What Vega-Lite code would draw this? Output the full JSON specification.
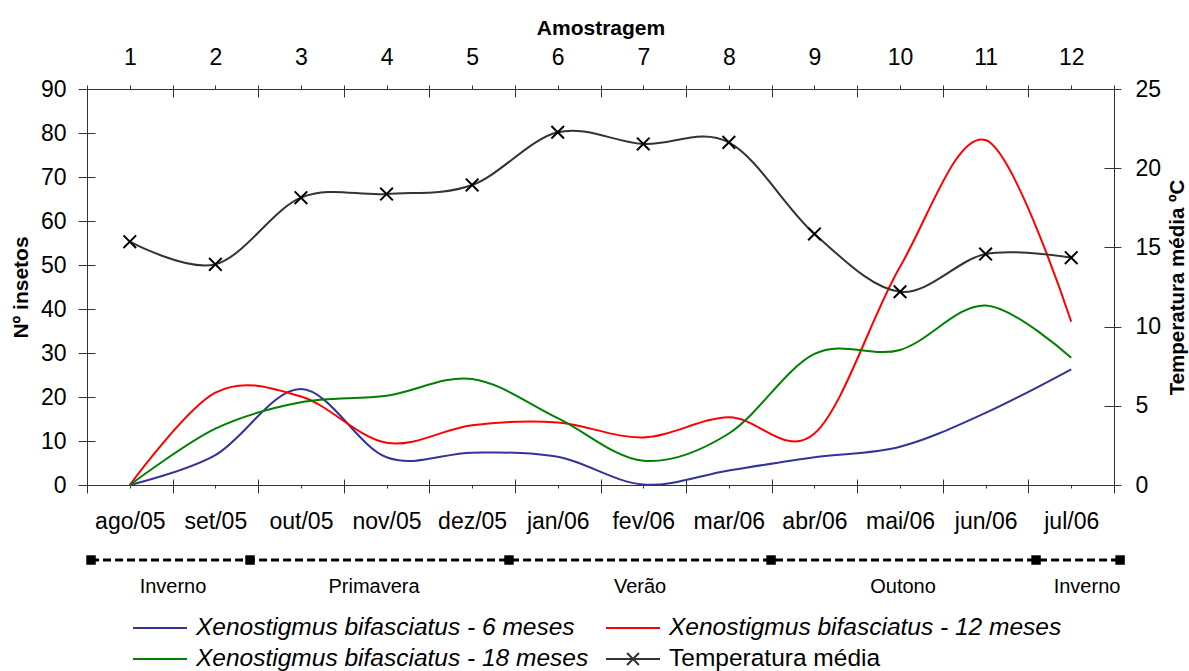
{
  "$schema": "https://vega.github.io/schema/vega-lite/v6.json",
  "width": 1027,
  "height": 396,
  "autosize": {"type": "none"},
  "padding": {"left": 87, "top": 89, "right": 75, "bottom": 186},
  "background": "white",
  "config": {
    "font": "Liberation Sans",
    "view": {"stroke": null},
    "axis": {
      "grid": false,
      "domainColor": "#333333",
      "tickColor": "#333333",
      "labelColor": "#000000",
      "titleColor": "#000000",
      "labelFont": "Liberation Sans",
      "titleFont": "Liberation Sans",
      "labelFontSize": 23,
      "titleFontSize": 21,
      "titleFontWeight": "bold",
      "labelOverlap": false,
      "labelFlush": false
    }
  },
  "datasets": {
    "series": [
      {"amostra": 1, "serie": "Xenostigmus bifasciatus - 6 meses", "n": 0},
      {"amostra": 2, "serie": "Xenostigmus bifasciatus - 6 meses", "n": 6.8},
      {"amostra": 3, "serie": "Xenostigmus bifasciatus - 6 meses", "n": 21.8},
      {"amostra": 4, "serie": "Xenostigmus bifasciatus - 6 meses", "n": 6.3},
      {"amostra": 5, "serie": "Xenostigmus bifasciatus - 6 meses", "n": 7.35},
      {"amostra": 6, "serie": "Xenostigmus bifasciatus - 6 meses", "n": 6.4},
      {"amostra": 7, "serie": "Xenostigmus bifasciatus - 6 meses", "n": 0.1},
      {"amostra": 8, "serie": "Xenostigmus bifasciatus - 6 meses", "n": 3.3},
      {"amostra": 9, "serie": "Xenostigmus bifasciatus - 6 meses", "n": 6.3},
      {"amostra": 10, "serie": "Xenostigmus bifasciatus - 6 meses", "n": 8.7},
      {"amostra": 11, "serie": "Xenostigmus bifasciatus - 6 meses", "n": 16.4},
      {"amostra": 12, "serie": "Xenostigmus bifasciatus - 6 meses", "n": 26.3},
      {"amostra": 1, "serie": "Xenostigmus bifasciatus - 12 meses", "n": 0},
      {"amostra": 2, "serie": "Xenostigmus bifasciatus - 12 meses", "n": 21},
      {"amostra": 3, "serie": "Xenostigmus bifasciatus - 12 meses", "n": 20.1},
      {"amostra": 4, "serie": "Xenostigmus bifasciatus - 12 meses", "n": 9.6},
      {"amostra": 5, "serie": "Xenostigmus bifasciatus - 12 meses", "n": 13.6},
      {"amostra": 6, "serie": "Xenostigmus bifasciatus - 12 meses", "n": 14.2},
      {"amostra": 7, "serie": "Xenostigmus bifasciatus - 12 meses", "n": 10.8},
      {"amostra": 8, "serie": "Xenostigmus bifasciatus - 12 meses", "n": 15.4},
      {"amostra": 9, "serie": "Xenostigmus bifasciatus - 12 meses", "n": 11.7},
      {"amostra": 10, "serie": "Xenostigmus bifasciatus - 12 meses", "n": 49.6},
      {"amostra": 11, "serie": "Xenostigmus bifasciatus - 12 meses", "n": 78.4},
      {"amostra": 12, "serie": "Xenostigmus bifasciatus - 12 meses", "n": 37.1},
      {"amostra": 1, "serie": "Xenostigmus bifasciatus - 18 meses", "n": 0},
      {"amostra": 2, "serie": "Xenostigmus bifasciatus - 18 meses", "n": 12.8},
      {"amostra": 3, "serie": "Xenostigmus bifasciatus - 18 meses", "n": 18.8},
      {"amostra": 4, "serie": "Xenostigmus bifasciatus - 18 meses", "n": 20.3},
      {"amostra": 5, "serie": "Xenostigmus bifasciatus - 18 meses", "n": 24.1},
      {"amostra": 6, "serie": "Xenostigmus bifasciatus - 18 meses", "n": 15.2},
      {"amostra": 7, "serie": "Xenostigmus bifasciatus - 18 meses", "n": 5.5},
      {"amostra": 8, "serie": "Xenostigmus bifasciatus - 18 meses", "n": 11.7},
      {"amostra": 9, "serie": "Xenostigmus bifasciatus - 18 meses", "n": 29.8},
      {"amostra": 10, "serie": "Xenostigmus bifasciatus - 18 meses", "n": 30.7},
      {"amostra": 11, "serie": "Xenostigmus bifasciatus - 18 meses", "n": 40.8},
      {"amostra": 12, "serie": "Xenostigmus bifasciatus - 18 meses", "n": 28.9}
    ],
    "temp": [
      {"amostra": 1, "serie": "Temperatura média", "temp": 15.36},
      {"amostra": 2, "serie": "Temperatura média", "temp": 13.93},
      {"amostra": 3, "serie": "Temperatura média", "temp": 18.14},
      {"amostra": 4, "serie": "Temperatura média", "temp": 18.37},
      {"amostra": 5, "serie": "Temperatura média", "temp": 18.94},
      {"amostra": 6, "serie": "Temperatura média", "temp": 22.27},
      {"amostra": 7, "serie": "Temperatura média", "temp": 21.53},
      {"amostra": 8, "serie": "Temperatura média", "temp": 21.63},
      {"amostra": 9, "serie": "Temperatura média", "temp": 15.85},
      {"amostra": 10, "serie": "Temperatura média", "temp": 12.2},
      {"amostra": 11, "serie": "Temperatura média", "temp": 14.58},
      {"amostra": 12, "serie": "Temperatura média", "temp": 14.35}
    ],
    "estacoes": [
      {"pos": 0.547},
      {"pos": 2.405},
      {"pos": 5.431},
      {"pos": 8.493},
      {"pos": 11.589},
      {"pos": 12.571}
    ],
    "estacaoNomes": [
      {"pos": 1.505, "nome": "Inverno"},
      {"pos": 3.854, "nome": "Primavera"},
      {"pos": 6.962, "nome": "Verão"},
      {"pos": 10.035, "nome": "Outono"},
      {"pos": 12.185, "nome": "Inverno"}
    ]
  },
  "layer": [
    {
      "data": {"name": "series"},
      "mark": {"type": "line", "interpolate": "cardinal", "tension": 0, "strokeWidth": 2},
      "encoding": {
        "x": {
          "field": "amostra", "type": "quantitative",
          "scale": {"domain": [0.5, 12.5], "nice": false, "zero": false},
          "axis": {
            "orient": "bottom", "title": null,
            "values": [1, 2, 3, 4, 5, 6, 7, 8, 9, 10, 11, 12],
            "labelExpr": "['ago/05','set/05','out/05','nov/05','dez/05','jan/06','fev/06','mar/06','abr/06','mai/06','jun/06','jul/06'][datum.value - 1]",
            "tickSize": 3, "labelPadding": 22, "domain": true
          }
        },
        "y": {
          "field": "n", "type": "quantitative",
          "scale": {"domain": [0, 90], "nice": false},
          "axis": {
            "orient": "left", "title": "Nº insetos",
            "values": [0, 10, 20, 30, 40, 50, 60, 70, 80, 90],
            "tickSize": 9, "labelPadding": 12, "titlePadding": 9
          }
        },
        "color": {
          "field": "serie", "type": "nominal",
          "scale": {
            "domain": ["Xenostigmus bifasciatus - 6 meses", "Xenostigmus bifasciatus - 12 meses", "Xenostigmus bifasciatus - 18 meses", "Temperatura média"],
            "range": ["#333399", "#FF0000", "#008000", "#333333"]
          },
          "legend": {
            "orient": "none", "legendX": 45, "legendY": 526,
            "columns": 2, "direction": "horizontal", "title": null,
            "symbolType": "stroke", "symbolSize": 2916, "symbolStrokeWidth": 2,
            "labelFont": "Liberation Sans", "labelFontSize": 24.5, "labelColor": "#000000",
            "labelOffset": 8, "labelLimit": 700,
            "columnPadding": 16, "rowPadding": 5, "clipHeight": 26,
            "encode": {
              "symbols": {"update": {"shape": {"signal": "datum.value === 'Temperatura média' ? 'M-1,0H1M-0.22,-0.22L0.22,0.22M-0.22,0.22L0.22,-0.22' : 'stroke'"}}},
              "labels": {"update": {"fontStyle": {"signal": "datum.value === 'Temperatura média' ? 'normal' : 'italic'"}}}
            }
          }
        }
      }
    },
    {
      "data": {"name": "temp"},
      "mark": {"type": "line", "interpolate": "cardinal", "tension": 0, "strokeWidth": 2},
      "encoding": {
        "x": {
          "field": "amostra", "type": "quantitative",
          "scale": {"domain": [0.5, 12.5], "nice": false, "zero": false},
          "axis": {
            "orient": "top", "title": "Amostragem", "titlePadding": 8,
            "values": [0.5, 1, 1.5, 2, 2.5, 3, 3.5, 4, 4.5, 5, 5.5, 6, 6.5, 7, 7.5, 8, 8.5, 9, 9.5, 10, 10.5, 11, 11.5, 12, 12.5],
            "labelExpr": "datum.value % 1 == 0 ? format(datum.value, 'd') : ''",
            "tickSize": 4, "labelPadding": 16, "domain": true
          }
        },
        "y": {
          "field": "temp", "type": "quantitative",
          "scale": {"domain": [0, 25], "nice": false},
          "axis": {
            "orient": "right", "title": "Temperatura média ºC", "titleAngle": 270, "titleFontSize": 20.5,
            "values": [0, 5, 10, 15, 20, 25],
            "tickSize": 7, "labelPadding": 14, "titlePadding": 27
          }
        },
        "color": {"field": "serie", "type": "nominal"}
      }
    },
    {
      "data": {"name": "temp"},
      "mark": {"type": "point", "shape": "M-1,-1L1,1M-1,1L1,-1", "filled": false, "size": 160, "strokeWidth": 2, "color": "#000000", "opacity": 1},
      "encoding": {
        "x": {
          "field": "amostra", "type": "quantitative",
          "scale": {"domain": [0.5, 12.5], "nice": false, "zero": false},
          "axis": {
            "orient": "bottom", "title": null, "labels": false, "domain": false,
            "values": [0.5, 1.5, 2.5, 3.5, 4.5, 5.5, 6.5, 7.5, 8.5, 9.5, 10.5, 11.5, 12.5],
            "tickSize": 8
          }
        },
        "y": {
          "field": "temp", "type": "quantitative",
          "scale": {"domain": [0, 25], "nice": false},
          "axis": {
            "orient": "right", "title": null, "labels": false, "domain": false,
            "values": [0, 5, 10, 15, 20, 25], "tickSize": -10
          }
        }
      }
    },
    {
      "data": {"name": "estacoes"},
      "mark": {"type": "line", "strokeDash": [8, 4], "strokeWidth": 3, "color": "#000000", "clip": false},
      "encoding": {
        "x": {
          "field": "pos", "type": "quantitative",
          "scale": {"domain": [0.5, 12.5], "nice": false, "zero": false},
          "axis": {
            "orient": "top", "title": null, "labels": false, "domain": false,
            "values": [0.5, 1.5, 2.5, 3.5, 4.5, 5.5, 6.5, 7.5, 8.5, 9.5, 10.5, 11.5, 12.5],
            "tickSize": -8
          }
        },
        "y": {
          "datum": -17.05, "type": "quantitative",
          "scale": {"domain": [0, 90], "nice": false},
          "axis": {
            "orient": "left", "title": null, "labels": false, "domain": false,
            "values": [0, 10, 20, 30, 40, 50, 60, 70, 80, 90], "tickSize": -8
          }
        }
      }
    },
    {
      "data": {"name": "estacoes"},
      "mark": {"type": "point", "shape": "square", "filled": true, "size": 90, "color": "#000000", "opacity": 1, "clip": false},
      "encoding": {
        "x": {
          "field": "pos", "type": "quantitative",
          "scale": {"domain": [0.5, 12.5], "nice": false, "zero": false},
          "axis": null
        },
        "y": {
          "datum": -17.05, "type": "quantitative",
          "scale": {"domain": [0, 90], "nice": false},
          "axis": null
        }
      }
    },
    {
      "data": {"name": "estacaoNomes"},
      "mark": {"type": "text", "font": "Liberation Sans", "fontSize": 20, "color": "#000000", "baseline": "middle", "align": "center", "clip": false},
      "encoding": {
        "x": {
          "field": "pos", "type": "quantitative",
          "scale": {"domain": [0.5, 12.5], "nice": false, "zero": false},
          "axis": {
            "orient": "bottom", "title": null, "labels": false, "domain": false,
            "values": [0.5, 1.5, 2.5, 3.5, 4.5, 5.5, 6.5, 7.5, 8.5, 9.5, 10.5, 11.5, 12.5],
            "tickSize": -6
          }
        },
        "y": {
          "datum": -23.2, "type": "quantitative",
          "scale": {"domain": [0, 90], "nice": false},
          "axis": null
        },
        "text": {"field": "nome", "type": "nominal"}
      }
    }
  ],
  "resolve": {
    "scale": {"x": "shared", "y": "independent"},
    "axis": {"x": "independent", "y": "independent"}
  }
}
